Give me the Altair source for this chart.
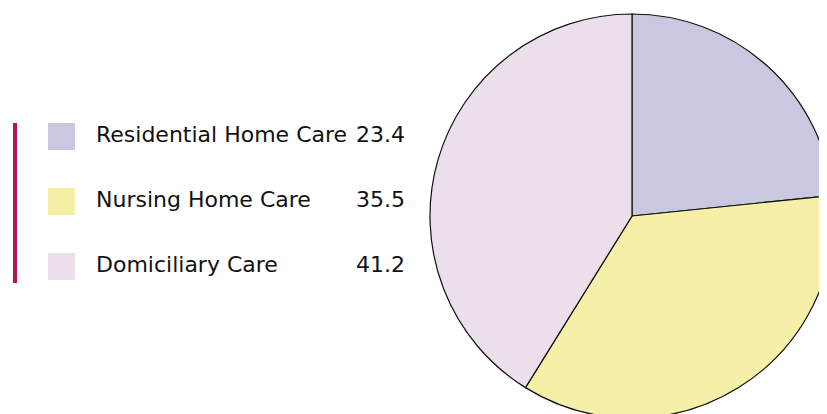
import altair as alt
import pandas as pd

categories = ["Residential Home Care", "Nursing Home Care", "Domiciliary Care"]
values = [23.4, 35.5, 41.2]
value_labels = ["23.4", "35.5", "41.2"]
colors = ["#c8c8e0", "#f5efa8", "#ebdfeb"]

df = pd.DataFrame({
    "cat": categories,
    "value": values,
    "label": value_labels,
    "order": list(range(len(categories))),
})

color = alt.Color("cat:N", scale=alt.Scale(domain=categories, range=colors), legend=None)
yrow = alt.Y("cat:N", scale=alt.Scale(type="point", domain=categories, range=[128.5, 258.5], padding=0), axis=None)

pie = alt.Chart(df).mark_arc(outerRadius=202, stroke="#111111", strokeWidth=1.2).encode(
    theta=alt.Theta("value:Q", stack=True),
    color=color,
    order=alt.Order("order:Q"),
    x=alt.value(624),
    y=alt.value(208),
)

bar = alt.Chart(df).mark_rule(color="#b5135c", strokeWidth=4).encode(
    x=alt.value(7), y=alt.value(115), y2=alt.value(275)
)

squares = alt.Chart(df).mark_square(size=729, opacity=1, filled=True).encode(
    x=alt.value(53.5), y=yrow, color=color
)

names = alt.Chart(df).mark_text(align="left", baseline="alphabetic", font="DejaVu Sans", fontSize=22, color="#111111", dy=5.5).encode(
    x=alt.value(88), y=yrow, text="cat:N"
)

nums = alt.Chart(df).mark_text(align="right", baseline="alphabetic", font="DejaVu Sans", fontSize=22, color="#111111", dy=5.5).encode(
    x=alt.value(397), y=yrow, text="label:N"
)

chart = alt.layer(pie, bar, squares, names, nums).properties(
    width=811, height=406, padding=0, autosize=alt.AutoSizeParams(type="none")
).configure_view(stroke=None)

chart.save("out.html", embed_options={"renderer": "svg", "actions": False})
